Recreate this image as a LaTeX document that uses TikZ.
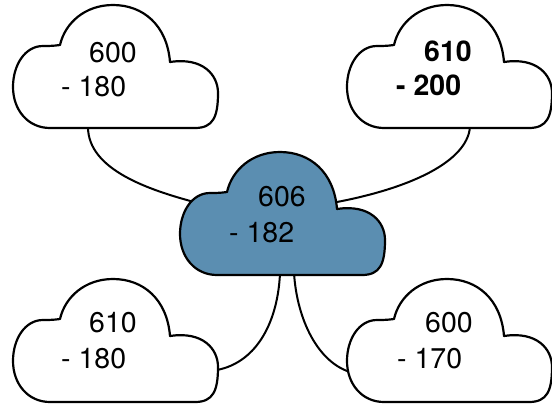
\documentclass[tikz,border=0pt]{standalone}
\usepackage{fontspec}
\setmainfont{TeX Gyre Heros}
\definecolor{cloudblue}{RGB}{91,142,177}
\tikzset{
  x=1pt, y=-1pt,
  cloudline/.style={draw=black, line width=2.2pt, line join=round},
  link/.style={draw=black, line width=2pt},
  numtext/.style={font=\fontsize{28.5}{34}\selectfont, inner sep=0pt, text=black},
  cloudshape/.pic={
    \path[cloudline, pic actions] (37,123) -- (182,123)
      .. controls (200,123) and (205,112) .. (205,88)
      .. controls (205,70) and (190,52) .. (157,57)
      .. controls (154,20) and (130,0) .. (100,0)
      .. controls (72,0) and (52,18) .. (47,40)
      .. controls (40,41) and (35,41) .. (30,41)
      .. controls (12,41) and (0,60) .. (0,82)
      .. controls (0,105) and (15,123) .. (37,123) -- cycle;
  }
}
\begin{document}
\begin{tikzpicture}
\useasboundingbox (0,0) rectangle (552,405);
% connection points
\coordinate (tlout) at (88,127);
\coordinate (trout) at (470,127);
\coordinate (cinl) at (194,202);
\coordinate (cinr) at (337,202);
\coordinate (cbl) at (280,273);
\coordinate (cbr) at (294,273);
\coordinate (blin) at (217,370);
\coordinate (brin) at (350,372);
% connectors
\draw[link] (tlout) .. controls (88,170) and (150,190) .. (cinl);
\draw[link] (trout) .. controls (467,162) and (410,188) .. (cinr);
\draw[link] (cbl) .. controls (278,320) and (258,362) .. (blin);
\draw[link] (cbr) .. controls (297,320) and (318,362) .. (brin);
% clouds
\pic[fill=white] at (13,5) {cloudshape};
\pic[fill=white] at (347,5) {cloudshape};
\pic[fill=cloudblue] at (180,152) {cloudshape};
\pic[fill=white] at (13,279) {cloudshape};
\pic[fill=white] at (347,279) {cloudshape};
% texts
\node[numtext, anchor=base] (tl1) at (113,62) {600};
\node[numtext, anchor=base west] (tl2) at (61,96) {- 180};
\node[numtext, anchor=base] (tr1) at (448,61) {\bfseries 610};
\node[numtext, anchor=base west] (tr2) at (396,95) {\bfseries - 200};
\node[numtext, anchor=base] (c1) at (282,206) {606};
\node[numtext, anchor=base west] (c2) at (229,242) {- 182};
\node[numtext, anchor=base] (bl1) at (113,332) {610};
\node[numtext, anchor=base west] (bl2) at (61,368) {- 180};
\node[numtext, anchor=base] (br1) at (449,332) {600};
\node[numtext, anchor=base west] (br2) at (397,368) {- 170};
\end{tikzpicture}
\end{document}
